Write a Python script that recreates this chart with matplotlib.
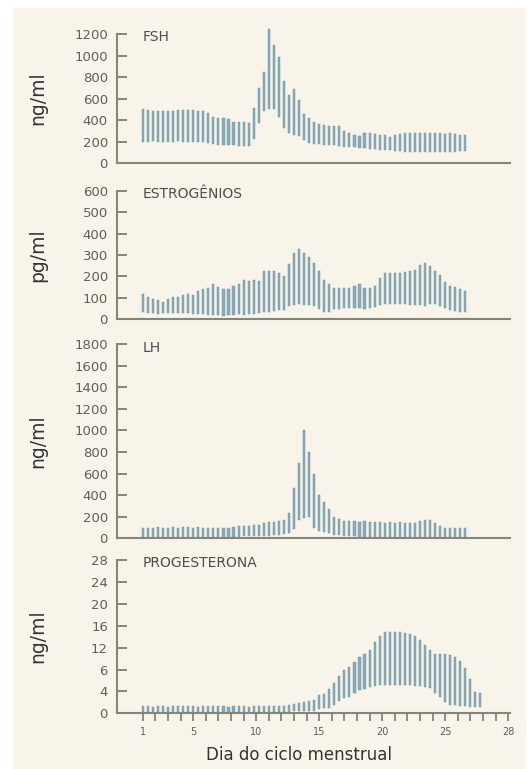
import numpy as np
import matplotlib
matplotlib.use("Agg")
import matplotlib.pyplot as plt
from matplotlib.patches import Rectangle

# valores (minimo e maximo de cada barra)

fsh_max = [500, 495, 485, 480, 480, 480, 485, 490, 495, 495, 490, 485, 480, 470,
           425, 420, 415, 410,
           385, 380, 380, 375,
           510, 700, 850, 1250, 1100, 990, 760, 630, 690, 590, 460, 415, 385, 365, 350, 345, 345, 340,
           295, 275, 260, 250, 280, 280, 270, 260, 265, 240, 265, 270, 275,
           280, 280, 275, 280, 280, 275, 275, 270, 275, 270, 265, 260]
fsh_min = [200, 200, 205, 200, 200, 200, 200, 205, 200, 200, 200, 195, 195, 190,
           175, 170, 170, 165,
           165, 160, 155, 160,
           220, 370, 480, 500, 500, 430, 330, 280, 260, 255, 210, 190, 180, 175, 170, 165, 165, 160,
           150, 145, 145, 140, 140, 135, 130, 125, 125, 120, 115, 110, 105,
           100, 100, 105, 100, 100, 105, 100, 100, 105, 105, 110, 110]

est_max = [117, 105, 94, 87, 80,
           94, 102, 105, 114, 117, 114, 132, 140, 147,
           163, 152, 140, 140, 155, 163, 185, 178, 185, 178,
           223, 223, 223, 216, 200,
           257, 307, 327, 307, 292, 261, 223,
           185, 163, 147, 147, 144, 147, 155, 163, 147, 147, 155,
           193, 216, 216, 216, 216, 220, 225, 228, 254, 261, 250,
           226, 205, 175, 155, 150, 140, 132]
est_min = [35, 30, 28, 25, 28,
           30, 30, 28, 28, 30, 25, 25, 22, 20,
           20, 18, 15, 18, 20, 22, 20, 25, 25, 28,
           35, 35, 38, 40, 42,
           62, 65, 68, 66, 64, 60, 45,
           35, 32, 45, 48, 50, 50, 52, 50, 48, 50, 55,
           65, 68, 68, 70, 70, 68, 66, 65, 64, 62, 68,
           70, 60, 50, 42, 38, 35, 32]

lh_max = [100, 98, 100, 102, 100, 100, 103, 100, 105, 102, 100, 104, 100, 100, 98, 100, 98, 100,
          105, 110, 112, 115, 120, 125,
          140, 150, 155, 160,
          170, 230, 470, 700, 1000, 800, 600, 400, 340, 270, 200, 175, 160,
          160, 160, 155, 160, 155, 150,
          150, 145, 150, 145, 150, 140, 140, 145,
          160, 170, 165, 140,
          110, 100, 100, 95, 100, 100]
lh_min = [15, 15, 12, 15, 15, 12, 15, 15, 15, 12, 15, 15, 15, 15, 12, 15, 15, 15,
          15, 15, 18, 18, 20, 20,
          20, 25, 30, 35,
          40, 50, 90, 165, 190, 200, 100, 70, 60, 45, 35, 30, 25,
          20, 20, 15, 15, 15, 15,
          15, 15, 15, 15, 15, 15, 15, 15,
          15, 15, 15, 15,
          15, 15, 15, 15, 15, 15]

prog_max = [1.3, 1.3, 1.2, 1.3, 1.3, 1.2, 1.3, 1.3, 1.4, 1.3, 1.3, 1.2, 1.3, 1.3,
            1.3, 1.4, 1.3, 1.2, 1.3, 1.3, 1.3, 1.2, 1.3, 1.3, 1.4, 1.3, 1.3, 1.3,
            1.4, 1.6, 1.7, 1.8, 2.0, 2.3,
            2.5, 3.3, 3.6, 4.5, 5.5, 6.8, 7.9, 8.5, 9.4, 10.3, 10.9, 11.6, 13.0, 14.2,
            14.8, 14.8, 14.8, 14.8, 14.7, 14.5, 14.2, 13.4, 12.4, 11.5,
            10.9, 10.9, 10.9, 10.6, 10.2, 9.5, 8.2, 6.2, 3.9, 3.8]
prog_min = [0.3] * 28 + [0.3, 0.3, 0.4, 0.4, 0.5, 0.5,
            0.5, 0.8, 0.9, 1.0, 1.5, 2.3, 2.8, 3.0, 3.8, 4.2, 4.5, 4.8, 5.0, 5.1,
            5.1, 5.1, 5.1, 5.1, 5.1, 5.1, 5.0, 5.0, 4.8, 4.7,
            3.8, 3.0, 2.0, 1.6, 1.5, 1.4, 1.3, 1.2, 1.2, 1.2]

titulos = ["FSH", "ESTROGÊNIOS", "LH", "PROGESTERONA"]
unidades = ["ng/ml", "pg/ml", "ng/ml", "ng/ml"]
yticks = [[0, 200, 400, 600, 800, 1000, 1200],
          [0, 100, 200, 300, 400, 500, 600],
          [0, 200, 400, 600, 800, 1000, 1200, 1400, 1600, 1800],
          [0, 4, 8, 12, 16, 20, 24, 28]]
prog_ytick_labels = ["0", "4", "6", "12", "16", "20", "24", "28"]
dias_ticks = list(range(1, 31))
dias_labels_pos = [1, 5, 10, 15, 20, 25, 30]
dias_labels = ["1", "5", "10", "15", "20", "25", "28"]

dados = [(fsh_min, fsh_max), (est_min, est_max), (lh_min, lh_max), (prog_min, prog_max)]

# posicao dos paineis (fração da figura)
caixas = [[0.2208, 0.7880, 0.7415, 0.1677],
          [0.2208, 0.5852, 0.7415, 0.1665],
          [0.2208, 0.3000, 0.7415, 0.2527],
          [0.2208, 0.0724, 0.7415, 0.1994]]

cinza = '#85857b'
cor_barra = '#8aadbd'

fig = plt.figure(figsize=(5.3, 7.69), dpi=100)
fig.patch.set_facecolor('white')
fig.add_artist(Rectangle((13 / 530, 0), (526 - 13) / 530, 1 - 8 / 769,
                         transform=fig.transFigure, facecolor='#f8f4e9',
                         edgecolor='none', zorder=-10))

for k in range(4):
    ax = fig.add_axes(caixas[k])
    ax.set_facecolor('none')
    lo, hi = dados[k]
    lo = np.array(lo)
    hi = np.array(hi)
    x = 1 + 0.4 * np.arange(len(hi))
    ax.bar(x, hi - lo, bottom=lo, width=0.17, color=cor_barra,
           edgecolor='#6a8b9a', linewidth=0.3, clip_on=False)

    ax.set_xlim(-1.05, 30.15)
    ax.set_ylim(yticks[k][0], yticks[k][-1])
    ax.set_yticks(yticks[k])
    if k == 3:
        ax.set_yticklabels(prog_ytick_labels)
    for s in ['top', 'right']:
        ax.spines[s].set_visible(False)
    for s in ['left', 'bottom']:
        ax.spines[s].set_color(cinza)
        ax.spines[s].set_linewidth(1.5)
    ax.tick_params(axis='y', direction='in', length=7, width=1.4, colors=cinza,
                   labelcolor='#5e5e5e', labelsize=9.5, pad=6.5)

    if k < 3:
        ax.set_xticks([])
    else:
        ax.set_xticks(dias_ticks, minor=True)
        ax.set_xticks(dias_labels_pos)
        ax.set_xticklabels(dias_labels)
        ax.tick_params(axis='x', which='both', direction='out', length=6, width=1.3,
                       colors=cinza, labelcolor='#5e5e5e', labelsize=7, pad=4)
        ax.set_xlabel("Dia do ciclo menstrual", fontsize=12, color='#333333')
        ax.xaxis.set_label_coords(0.463, -0.215)

    ax.set_ylabel(unidades[k], fontsize=13.5, color='#333333')
    ax.yaxis.set_label_coords(-0.178, 0.5)
    ax.text(0.95, 0.98, titulos[k], transform=ax.get_xaxis_transform(),
            ha='left', va='center', fontsize=10, color='#4d4d4d')

plt.savefig("out.png", dpi=100)
